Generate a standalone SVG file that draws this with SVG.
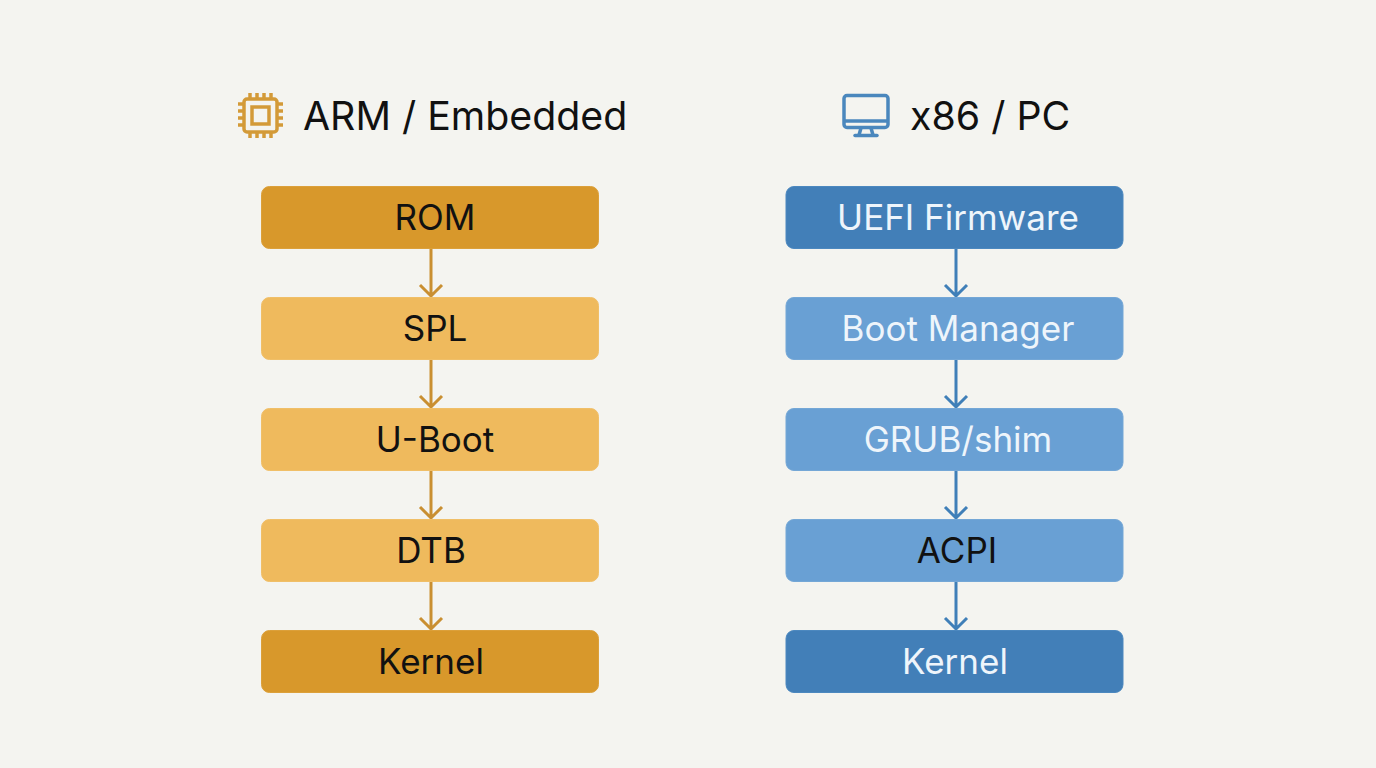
<svg xmlns="http://www.w3.org/2000/svg" width="1376" height="768" viewBox="0 0 1376 768">
<defs>
<style>
text{font-family:"Inter","Noto Sans","Liberation Sans",sans-serif;fill:#111;text-anchor:middle}
.h{font-size:39.300px;text-anchor:start}
.n{font-size:35px}
.w{fill:#eef5fb}
.b{stroke-width:1}
.ad{fill:#d8982b;stroke:#dca03a}
.al{fill:#efba5d;stroke:#f0bf68}
.bd{fill:#427fb8;stroke:#4c88bf}
.bl{fill:#69a0d4;stroke:#74a7d6}
.ca{stroke:#c98f31;fill:none;stroke-width:3}
.cb{stroke:#3f7fb8;fill:none;stroke-width:3}
</style>
</defs>
<rect width="1376" height="768" fill="#f4f4f0"/>
<g id="connectors">
<g class="ca">
<path d="M431 248V296M420 285L431 296L442 285"/>
<path d="M431 359V407M420 396L431 407L442 396"/>
<path d="M431 470V518M420 507L431 518L442 507"/>
<path d="M431 581V629M420 618L431 629L442 618"/>
</g>
<g class="cb">
<path d="M956 248V296M945 285L956 296L967 285"/>
<path d="M956 359V407M945 396L956 407L967 396"/>
<path d="M956 470V518M945 507L956 518L967 507"/>
<path d="M956 581V629M945 618L956 629L967 618"/>
</g>
</g>
<g id="arm-header">
<g fill="none" stroke="#d39a38" stroke-width="3.500">
<rect x="244" y="99" width="33" height="33" rx="3"/>
<rect x="252" y="107" width="17" height="17"/>
<path d="M250 93V99M257 93V99M264 93V99M271 93V99M250 132V138M257 132V138M264 132V138M271 132V138M238 104H244M238 111H244M238 118H244M238 125H244M277 104H283M277 111H283M277 118H283M277 125H283"/>
</g>
<text class="h" x="303" y="130">ARM / Embedded</text>
</g>
<g id="x86-header">
<g fill="none" stroke="#4a87bd" stroke-width="3.500">
<rect x="844" y="95.500" width="44" height="32" rx="3"/>
<path d="M844 121H888M861 128L859 135M871 128L873 135"/>
<path d="M855 135.500H877" stroke-linecap="round"/>
</g>
<text class="h" x="910" y="130">x86 / PC</text>
</g>
<g id="rom"><rect class="b ad" x="261.500" y="186.500" width="337" height="62" rx="8"/><text class="n" x="435" y="230">ROM</text></g>
<g id="spl"><rect class="b al" x="261.500" y="297.500" width="337" height="62" rx="8"/><text class="n" x="435" y="341">SPL</text></g>
<g id="uboot"><rect class="b al" x="261.500" y="408.500" width="337" height="62" rx="8"/><text class="n" x="435" y="452">U-Boot</text></g>
<g id="dtb"><rect class="b al" x="261.500" y="519.500" width="337" height="62" rx="8"/><text class="n" x="431" y="563">DTB</text></g>
<g id="kernel-arm"><rect class="b ad" x="261.500" y="630.500" width="337" height="62" rx="8"/><text class="n" x="431" y="674">Kernel</text></g>
<g id="uefi"><rect class="b bd" x="786" y="186.500" width="337" height="62" rx="8"/><text class="n w" x="958" y="230">UEFI Firmware</text></g>
<g id="boot-manager"><rect class="b bl" x="786" y="297.500" width="337" height="62" rx="8"/><text class="n w" x="958" y="341">Boot Manager</text></g>
<g id="grub"><rect class="b bl" x="786" y="408.500" width="337" height="62" rx="8"/><text class="n w" x="958" y="452">GRUB/shim</text></g>
<g id="acpi"><rect class="b bl" x="786" y="519.500" width="337" height="62" rx="8"/><text class="n" x="957" y="563">ACPI</text></g>
<g id="kernel-x86"><rect class="b bd" x="786" y="630.500" width="337" height="62" rx="8"/><text class="n w" x="955" y="674">Kernel</text></g>
</svg>
